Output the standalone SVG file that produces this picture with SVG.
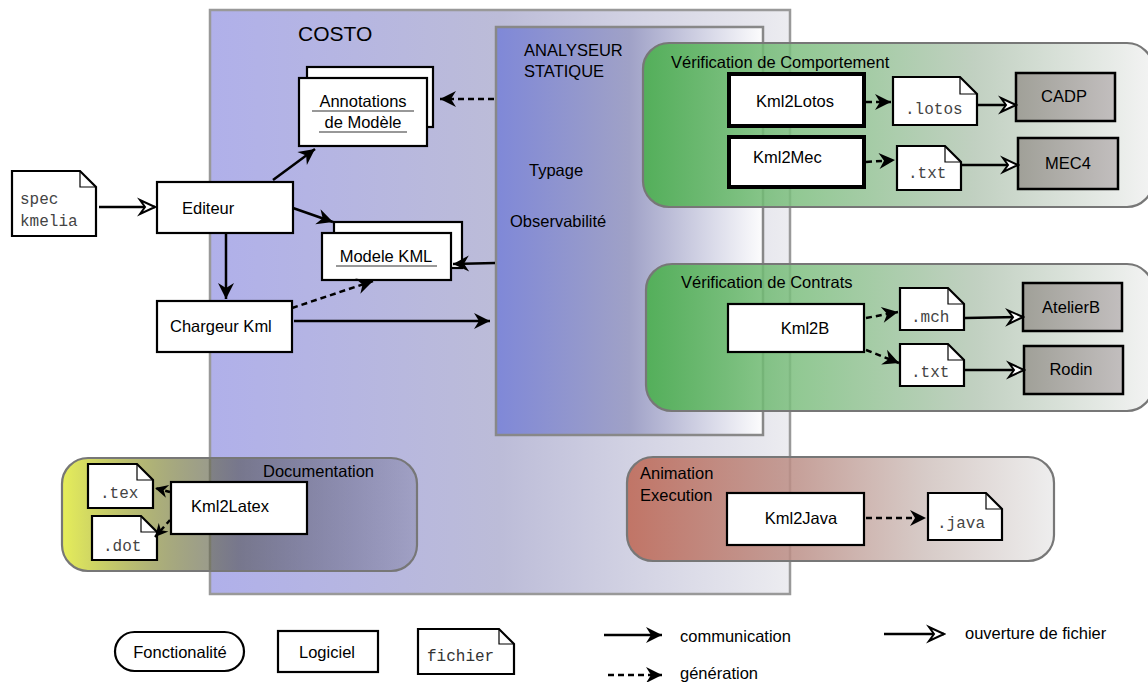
<svg xmlns="http://www.w3.org/2000/svg" width="1148" height="682" viewBox="0 0 1148 682">
<defs>
<linearGradient id="gCosto" x1="0" y1="0" x2="1" y2="0">
<stop offset="0" stop-color="#b0b0ea"/>
<stop offset="0.5" stop-color="#bcbcd8"/>
<stop offset="1" stop-color="#ececf0"/>
</linearGradient>
<linearGradient id="gAna" x1="0" y1="0" x2="1" y2="0">
<stop offset="0" stop-color="#7f88d8"/>
<stop offset="0.5" stop-color="#9a9cc4" stop-opacity="0.9"/>
<stop offset="1" stop-color="#ffffff" stop-opacity="0.9"/>
</linearGradient>
<linearGradient id="gGreen" x1="0" y1="0" x2="1" y2="0">
<stop offset="0" stop-color="#4caf50" stop-opacity="0.92"/>
<stop offset="0.3" stop-color="#7ebf80" stop-opacity="0.85"/>
<stop offset="0.65" stop-color="#b6c8b6" stop-opacity="0.85"/>
<stop offset="1" stop-color="#f2f2f2" stop-opacity="0.9"/>
</linearGradient>
<linearGradient id="gDoc" x1="0" y1="0" x2="1" y2="0">
<stop offset="0" stop-color="#e6ee5a"/>
<stop offset="0.5" stop-color="#505050" stop-opacity="0.6"/>
<stop offset="1" stop-color="#404060" stop-opacity="0.2"/>
</linearGradient>
<linearGradient id="gAnim" x1="0" y1="0" x2="1" y2="0">
<stop offset="0" stop-color="#c07060" stop-opacity="0.95"/>
<stop offset="0.4" stop-color="#bc9088" stop-opacity="0.85"/>
<stop offset="0.7" stop-color="#d0c2be" stop-opacity="0.85"/>
<stop offset="1" stop-color="#ececec" stop-opacity="0.9"/>
</linearGradient>
<linearGradient id="gTool" x1="0" y1="0" x2="1" y2="0">
<stop offset="0" stop-color="#a0a098"/>
<stop offset="1" stop-color="#c2bebe"/>
</linearGradient>
<marker id="aFill" viewBox="-17 -9 19 18" refX="0" refY="0" markerWidth="19" markerHeight="18" markerUnits="userSpaceOnUse" orient="auto">
<path d="M0,0 L-16,-8 L-11,0 L-16,8 Z" fill="#000"/>
</marker>
<marker id="aSmall" viewBox="-15 -8 17 16" refX="0" refY="0" markerWidth="17" markerHeight="16" markerUnits="userSpaceOnUse" orient="auto">
<path d="M0,0 L-13,-6.5 L-9,0 L-13,6.5 Z" fill="#000"/>
</marker>
<marker id="aOpen" viewBox="-18 -10 20 20" refX="0" refY="0" markerWidth="20" markerHeight="20" markerUnits="userSpaceOnUse" orient="auto">
<path d="M0,0 L-15,-7 L-10,0 L-15,7 Z" fill="#fff" stroke="#000" stroke-width="2" stroke-linejoin="miter"/>
</marker>
</defs>
<style>
text{font-family:"Liberation Sans",Arial,sans-serif;font-size:16.5px;fill:#000}
.mono{font-family:"Liberation Mono","Courier New",monospace;font-size:16px;fill:#444}
.sw{fill:#fff;stroke:#000;stroke-width:2.2}
.swb{fill:#fff;stroke:#000;stroke-width:4}
.tool{fill:url(#gTool);stroke:#000;stroke-width:2.5}
.file{fill:#fff;stroke:#000;stroke-width:2.2;stroke-linejoin:miter}
.fold{fill:none;stroke:#000;stroke-width:1.2}
.grp{stroke:#777;stroke-width:2.2}
.ul{stroke:#333;stroke-width:1.2}
.c{fill:none;stroke:#000;stroke-width:2.5;marker-end:url(#aFill)}
.d{fill:none;stroke:#000;stroke-width:2.5;stroke-dasharray:6,4;marker-end:url(#aFill)}
.ds{fill:none;stroke:#000;stroke-width:2.5;stroke-dasharray:5,4;marker-end:url(#aSmall)}
.o{fill:none;stroke:#000;stroke-width:2.5;marker-end:url(#aOpen)}
</style>

<g id="costo">
<rect x="210" y="10" width="580" height="584" fill="url(#gCosto)" stroke="#999" stroke-width="2.5"/>
<text x="298" y="41" style="font-size:21px">COSTO</text>
</g>
<g id="analyseur">
<rect x="496" y="27" width="267" height="408" fill="url(#gAna)" stroke="#888" stroke-width="2.5"/>
<text x="524" y="56">ANALYSEUR</text>
<text x="524" y="77">STATIQUE</text>
<text x="529" y="176">Typage</text>
<text x="510" y="227">Observabilité</text>
</g>

<g id="spec">
<path class="file" d="M12,171 H80 L96,187 V236 H12 Z"/>
<path class="fold" d="M80,171 V187 H96"/>
<text class="mono" x="20" y="204">spec</text>
<text class="mono" x="20" y="226">kmelia</text>
</g>
<g id="editeur">
<rect class="sw" x="157" y="182" width="136" height="51"/>
<text x="182" y="214">Editeur</text>
</g>
<g id="chargeur">
<rect class="sw" x="157" y="301" width="135" height="51"/>
<text x="170" y="332">Chargeur Kml</text>
</g>
<g id="annotations">
<rect class="sw" x="307" y="67" width="126" height="60"/>
<rect class="sw" x="299" y="78" width="128" height="68"/>
<text x="363" y="107" text-anchor="middle">Annotations</text>
<line class="ul" x1="312" y1="111" x2="414" y2="111"/>
<text x="363" y="128" text-anchor="middle">de Modèle</text>
<line class="ul" x1="319" y1="132" x2="407" y2="132"/>
</g>
<g id="modele">
<rect class="sw" x="334" y="222" width="128" height="46"/>
<rect class="sw" x="322" y="233" width="129" height="47"/>
<text x="386" y="262" text-anchor="middle">Modele KML</text>
<line class="ul" x1="336" y1="266" x2="437" y2="266"/>
</g>

<g id="documentation">
<rect class="grp" x="62" y="458" width="355" height="113" rx="26" fill="url(#gDoc)"/>
<text x="263" y="477">Documentation</text>
</g>
<g id="tex">
<path class="file" d="M88,464 H137 L153,480 V508 H88 Z"/>
<path class="fold" d="M137,464 V480 H153"/>
<text class="mono" x="100" y="498">.tex</text>
</g>
<g id="dot">
<path class="file" d="M92,516 H141 L157,532 V560 H92 Z"/>
<path class="fold" d="M141,516 V532 H157"/>
<text class="mono" x="103" y="551">.dot</text>
</g>
<g id="kml2latex">
<rect class="sw" x="171" y="482" width="136" height="52"/>
<text x="191" y="512">Kml2Latex</text>
</g>

<g id="verifComportement">
<rect class="grp" x="643" y="43" width="510" height="164" rx="26" fill="url(#gGreen)"/>
<text x="671" y="68">Vérification de Comportement</text>
</g>
<g id="kml2lotos">
<rect class="swb" x="729" y="74" width="135" height="52"/>
<text x="795" y="107" text-anchor="middle">Kml2Lotos</text>
</g>
<g id="kml2mec">
<rect class="swb" x="729" y="137" width="135" height="50"/>
<text x="753" y="163">Kml2Mec</text>
</g>
<g id="lotos">
<path class="file" d="M893,77 H960 L977,94 V125 H893 Z"/>
<path class="fold" d="M960,77 V94 H977"/>
<text class="mono" x="905" y="114">.lotos</text>
</g>
<g id="txt1">
<path class="file" d="M897,146 H945 L961,162 V190 H897 Z"/>
<path class="fold" d="M945,146 V162 H961"/>
<text class="mono" x="908" y="178">.txt</text>
</g>
<g id="cadp">
<rect class="tool" x="1016" y="73" width="99" height="48"/>
<text x="1064" y="102" text-anchor="middle">CADP</text>
</g>
<g id="mec4">
<rect class="tool" x="1018" y="138" width="100" height="51"/>
<text x="1068" y="169" text-anchor="middle">MEC4</text>
</g>

<g id="verifContrats">
<rect class="grp" x="646" y="264" width="507" height="147" rx="26" fill="url(#gGreen)"/>
<text x="681" y="288">Vérification de Contrats</text>
</g>
<g id="kml2b">
<rect class="sw" x="728" y="304" width="136" height="48"/>
<text x="805" y="334" text-anchor="middle">Kml2B</text>
</g>
<g id="mch">
<path class="file" d="M900,288 H948 L964,304 V330 H900 Z"/>
<path class="fold" d="M948,288 V304 H964"/>
<text class="mono" x="911" y="322">.mch</text>
</g>
<g id="txt2">
<path class="file" d="M900,344 H948 L964,360 V386 H900 Z"/>
<path class="fold" d="M948,344 V360 H964"/>
<text class="mono" x="911" y="377">.txt</text>
</g>
<g id="atelierb">
<rect class="tool" x="1023" y="283" width="99" height="48"/>
<text x="1071" y="313" text-anchor="middle">AtelierB</text>
</g>
<g id="rodin">
<rect class="tool" x="1024" y="346" width="99" height="48"/>
<text x="1071" y="375" text-anchor="middle">Rodin</text>
</g>

<g id="animation">
<rect class="grp" x="627" y="457" width="427" height="104" rx="26" fill="url(#gAnim)"/>
<text x="640" y="479">Animation</text>
<text x="640" y="501">Execution</text>
</g>
<g id="kml2java">
<rect class="sw" x="727" y="493" width="137" height="52"/>
<text x="801" y="524" text-anchor="middle">Kml2Java</text>
</g>
<g id="java">
<path class="file" d="M928,493 H986 L1002,509 V540 H928 Z"/>
<path class="fold" d="M986,493 V509 H1002"/>
<text class="mono" x="937" y="528">.java</text>
</g>

<g id="connectors">
<line class="o" x1="99" y1="207" x2="155" y2="207"/>
<line class="c" x1="226" y1="234" x2="226" y2="299"/>
<line class="c" x1="273" y1="180" x2="315" y2="149"/>
<line class="c" x1="293" y1="208" x2="333" y2="222"/>
<line class="d" x1="292" y1="308" x2="373" y2="281"/>
<line class="c" x1="294" y1="321" x2="490" y2="321"/>
<line class="c" x1="495" y1="263" x2="453" y2="264"/>
<line class="d" x1="494" y1="99" x2="440" y2="99"/>
<line class="d" x1="866" y1="102" x2="891" y2="102"/>
<line class="o" x1="978" y1="105" x2="1016" y2="105"/>
<line class="d" x1="866" y1="162" x2="895" y2="160"/>
<line class="o" x1="962" y1="165" x2="1018" y2="165"/>
<line class="d" x1="866" y1="318" x2="898" y2="312"/>
<line class="d" x1="866" y1="350" x2="899" y2="363"/>
<line class="o" x1="965" y1="318" x2="1023" y2="317"/>
<line class="o" x1="965" y1="370" x2="1024" y2="370"/>
<line class="d" x1="866" y1="518" x2="926" y2="518"/>
<line class="ds" x1="170" y1="492" x2="155" y2="488"/>
<line class="ds" x1="170" y1="520" x2="155" y2="537"/>
</g>

<g id="legend">
<rect class="sw" x="115" y="632" width="129" height="39" rx="19.5"/>
<text x="180" y="658" text-anchor="middle">Fonctionalité</text>
<rect class="sw" x="278" y="631" width="100" height="41"/>
<text x="327" y="658" text-anchor="middle">Logiciel</text>
<path class="file" d="M418,629 H499 L514,644 V674 H418 Z"/>
<path class="fold" d="M499,629 V644 H514"/>
<text class="mono" x="427" y="661" style="fill:#333">fichier</text>
<line class="c" x1="604" y1="635" x2="662" y2="635"/>
<text x="680" y="642">communication</text>
<line class="d" x1="608" y1="675" x2="662" y2="675"/>
<text x="680" y="679">génération</text>
<line class="o" x1="884" y1="634" x2="944" y2="634"/>
<text x="965" y="639">ouverture de fichier</text>
</g>
</svg>
